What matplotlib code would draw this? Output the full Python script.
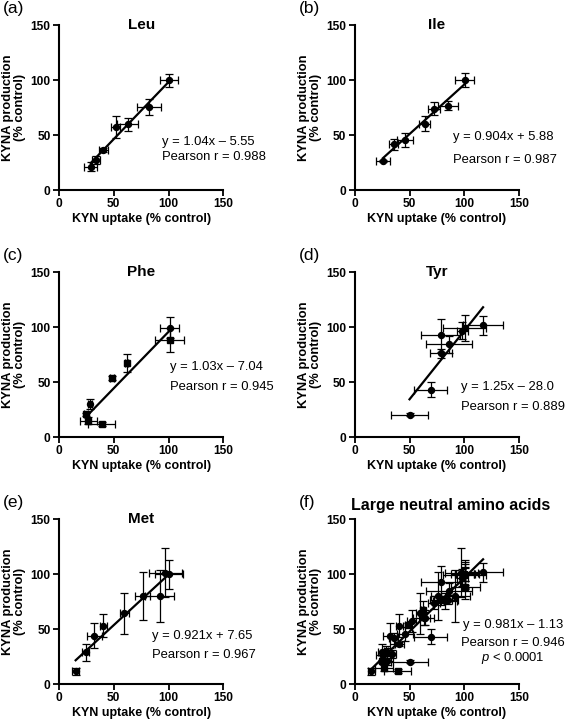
import numpy as np
import matplotlib
matplotlib.use("Agg")
import matplotlib.pyplot as plt

plt.rcParams['font.family'] = ['Liberation Sans', 'DejaVu Sans']
plt.rcParams['mathtext.fontset'] = 'custom'
plt.rcParams['mathtext.it'] = 'Liberation Sans:italic'
plt.rcParams['mathtext.rm'] = 'Liberation Sans'

# ---- data (KYN uptake x, KYNA production y, % control) ----
leu_x = [100.6, 82.3, 62.8, 51.8, 40.5, 33.8, 29.0]
leu_y = [100.0, 75.8, 60.0, 57.6, 36.4, 27.3, 21.2]
leu_xerr = [8.4, 11.0, 9.6, 4.0, 4.0, 4.0, 6.0]
leu_yerr = [6.0, 7.5, 6.0, 10.0, 2.0, 4.0, 4.0]

ile_x = [100.2, 85.0, 72.0, 63.8, 46.0, 35.5, 25.8]
ile_y = [100.0, 77.0, 74.0, 60.6, 45.5, 41.8, 26.4]
ile_xerr = [8.8, 8.7, 5.3, 5.0, 7.5, 4.0, 6.4]
ile_yerr = [6.4, 4.0, 6.0, 7.0, 6.5, 5.0, 1.0]

phe_x = [100.9, 100.9, 61.9, 48.2, 28.4, 24.7, 26.8, 39.0]
phe_y = [99.8, 88.6, 67.7, 53.8, 30.0, 20.6, 14.8, 12.0]
phe_xerr = [8.7, 13.0, 1.5, 2.0, 1.5, 2.0, 8.0, 12.5]
phe_yerr = [9.5, 11.0, 8.0, 2.0, 4.5, 1.5, 3.0, 2.0]
phe_mark = ['o', 's', 's', 's', 'o', 's', 's', 's']

tyr_x = [49.9, 69.2, 78.3, 85.9, 78.3, 100.4, 98.0, 117.0]
tyr_y = [20.5, 43.2, 76.4, 84.5, 92.7, 99.6, 97.0, 101.7]
tyr_xerr = [16.5, 15.0, 10.0, 21.0, 17.7, 19.6, 5.0, 18.4]
tyr_yerr = [1.0, 7.0, 4.0, 7.5, 15.0, 11.7, 8.0, 8.6]

met_x = [15.2, 24.4, 32.3, 40.5, 59.5, 76.2, 91.8, 97.0, 100.6]
met_y = [11.5, 28.8, 44.2, 53.0, 64.5, 80.3, 80.3, 101.5, 100.0]
met_xerr = [3.0, 3.0, 6.5, 3.0, 4.0, 7.0, 13.0, 15.0, 12.6]
met_yerr = [3.0, 8.0, 11.0, 10.6, 18.5, 22.0, 24.0, 22.0, 13.0]

titles = ['Leu', 'Ile', 'Phe', 'Tyr', 'Met', 'Large neutral amino acids']
letters = ['(a)', '(b)', '(c)', '(d)', '(e)', '(f)']
fits = [(1.04, -5.55, 'y = 1.04x \u2013 5.55', 'Pearson r = 0.988'),
        (0.904, 5.88, 'y = 0.904x + 5.88', 'Pearson r = 0.987'),
        (1.03, -7.04, 'y = 1.03x \u2013 7.04', 'Pearson r = 0.945'),
        (1.25, -28.0, 'y = 1.25x \u2013 28.0', 'Pearson r = 0.889'),
        (0.921, 7.65, 'y = 0.921x + 7.65', 'Pearson r = 0.967'),
        (0.981, -1.13, 'y = 0.981x \u2013 1.13', 'Pearson r = 0.946')]
# where the equation text sits (data coords)
text_pos = [(94, 44, 30), (90, 48.5, 27.3), (101, 64, 46), (97, 45.3, 27.2),
            (85, 44.2, 26.7)]

panels = [
    (leu_x, leu_y, leu_xerr, leu_yerr, ['o'] * 7),
    (ile_x, ile_y, ile_xerr, ile_yerr, ['o'] * 7),
    (phe_x, phe_y, phe_xerr, phe_yerr, phe_mark),
    (tyr_x, tyr_y, tyr_xerr, tyr_yerr, ['o'] * 8),
    (met_x, met_y, met_xerr, met_yerr, ['o'] * 9),
]
# panel f = everything together
all_x, all_y, all_xe, all_ye, all_m = [], [], [], [], []
for p in panels:
    all_x += p[0]; all_y += p[1]; all_xe += p[2]; all_ye += p[3]; all_m += p[4]
panels.append((all_x, all_y, all_xe, all_ye, all_m))

fig = plt.figure(figsize=(5.65, 7.22), dpi=100)
lefts = [0.1044, 0.628]
bottoms = [0.7368, 0.3947, 0.0526]
w, h = 0.291, 0.228

for i in range(6):
    ax = fig.add_axes([lefts[i % 2], bottoms[i // 2], w, h])
    x, y, xe, ye, mk = panels[i]
    for j in range(len(x)):
        ax.errorbar(x[j], y[j], xerr=xe[j], yerr=ye[j], fmt=mk[j], color='black',
                    markersize=4.3 if mk[j] == 'o' else 4, elinewidth=0.9,
                    capsize=2.6, capthick=0.9, zorder=3)
    slope, icpt, eq, pr = fits[i]
    xx = np.array([min(x), max(x)])
    ax.plot(xx, slope * xx + icpt, color='black', lw=1.6, zorder=4)

    if i < 5:
        tx, ty1, ty2 = text_pos[i]
        ax.text(tx, ty1, eq, fontsize=9.4, va='center', ha='left')
        ax.text(tx, ty2, pr, fontsize=9.4, va='center', ha='left')
    else:
        ax.text(144, 53.5, eq, fontsize=9.4, va='center', ha='center')
        ax.text(144, 37.8, pr, fontsize=9.4, va='center', ha='center')
        ax.text(144, 23.3, r'$p$ < 0.0001', fontsize=9.4, va='center', ha='center')

    ax.set_xlim(0, 150)
    ax.set_ylim(0, 150)
    ax.set_xticks([0, 50, 100, 150])
    ax.set_yticks([0, 50, 100, 150])
    for s in ['top', 'right']:
        ax.spines[s].set_visible(False)
    for s in ['left', 'bottom']:
        ax.spines[s].set_linewidth(1.5)
    ax.tick_params(direction='out', length=4, width=1.3, labelsize=8.6, pad=2)
    for lab in ax.get_xticklabels() + ax.get_yticklabels():
        lab.set_fontweight('bold')
    ax.set_xlabel('KYN uptake (% control)', fontsize=9, fontweight='bold', labelpad=2)
    ax.set_ylabel('KYNA production\n(% control)', fontsize=9.3, fontweight='bold',
                  labelpad=3, linespacing=1.05)
    if i < 5:
        ax.text(0.5, 1.0, titles[i], transform=ax.transAxes, fontsize=11,
                fontweight='bold', ha='center', va='center')
    else:
        ax.text(0.58, 1.085, titles[i], transform=ax.transAxes, fontsize=11.5,
                fontweight='bold', ha='center', va='center')
    ax.text(-0.34, 1.055, letters[i], transform=ax.transAxes,
            fontsize=12.5, va='bottom', ha='left')

fig.savefig('out.png', dpi=100)
